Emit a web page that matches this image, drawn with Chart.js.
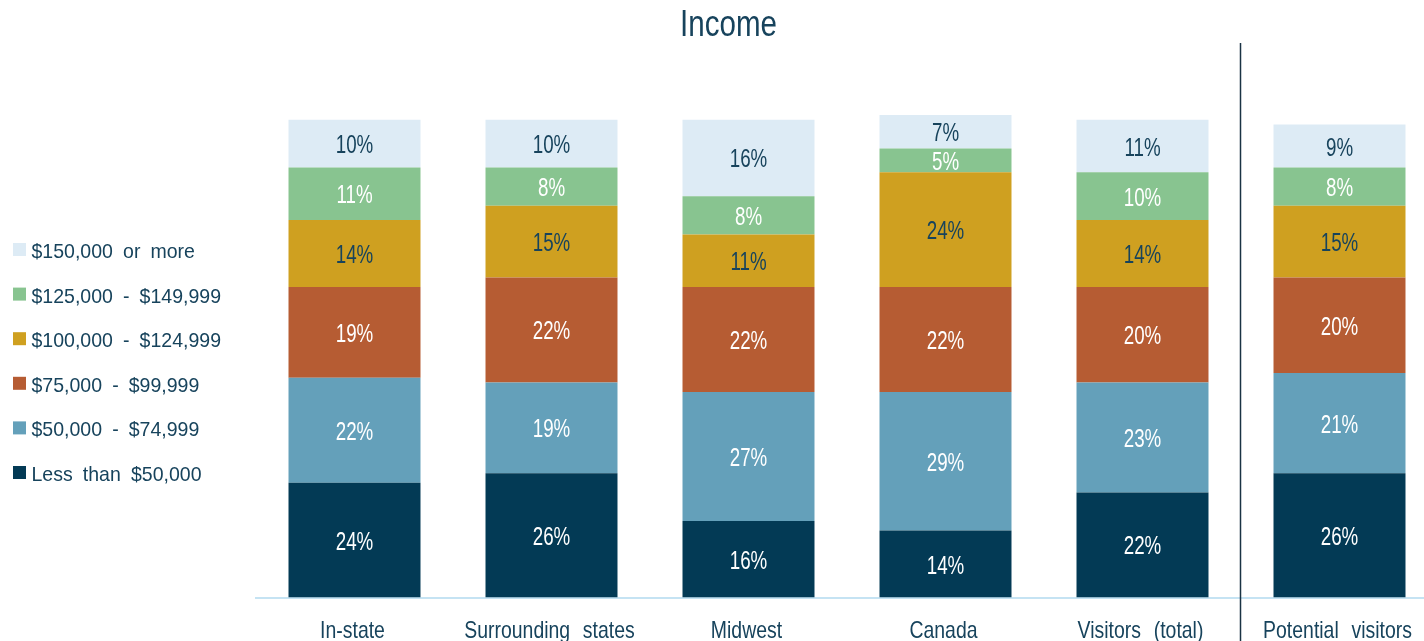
<!DOCTYPE html>
<html>
<head>
<meta charset="utf-8">
<title>Income</title>
<script src="https://cdn.jsdelivr.net/npm/chart.js@4.4.1/dist/chart.umd.min.js"></script>
<style>
  html, body { margin: 0; padding: 0; background: #ffffff; overflow: hidden; }
  #wrap { width: 1424px; height: 641px; overflow: hidden; position: relative; }
  canvas { display: block; }
</style>
</head>
<body>
<div id="wrap"><canvas id="chart" width="1460" height="641"></canvas></div>
<script>
// Visitor groups along the x axis
const categories = ['In-state', 'Surrounding states', 'Midwest', 'Canada', 'Visitors (total)', 'Potential visitors'];

// Share of respondents (%) in each household income bracket
const lessThan50k    = [24, 26, 16, 14, 22, 26];
const from50kTo75k   = [22, 19, 27, 29, 23, 21];
const from75kTo100k  = [19, 22, 22, 22, 20, 20];
const from100kTo125k = [14, 15, 11, 24, 14, 15];
const from125kTo150k = [11, 8, 8, 5, 10, 8];
const over150k       = [10, 10, 16, 7, 11, 9];

const bracketLabels = [
  'Less than $50,000',
  '$50,000 - $74,999',
  '$75,000 - $99,999',
  '$100,000 - $124,999',
  '$125,000 - $149,999',
  '$150,000 or more'
];

const chartTitle = 'Income';

const FONT = '"Liberation Sans", Arial, sans-serif';
const TEXT = '#17435c';

const series = [
  { data: lessThan50k,    color: '#033a55', label: '#ffffff' },
  { data: from50kTo75k,   color: '#64a0ba', label: '#ffffff' },
  { data: from75kTo100k,  color: '#b65c33', label: '#ffffff' },
  { data: from100kTo125k, color: '#cfa020', label: TEXT },
  { data: from125kTo150k, color: '#88c490', label: '#ffffff' },
  { data: over150k,       color: '#ddebf5', label: TEXT }
];

const datasets = series.map((s, i) => ({
  label: bracketLabels[i],
  data: s.data,
  backgroundColor: s.color,
  borderWidth: 0,
  barPercentage: 0.67,
  categoryPercentage: 1.0,
  valueColor: s.label
}));

// Condensed sans text: regular face squeezed horizontally
function narrowText(ctx, text, x, y, opts) {
  ctx.save();
  ctx.font = opts.size + 'px ' + FONT;
  ctx.fillStyle = opts.color;
  ctx.textAlign = opts.align || 'center';
  ctx.textBaseline = 'alphabetic';
  ctx.wordSpacing = (opts.gap || 0) + 'px';
  ctx.translate(x, y);
  ctx.scale(opts.sx, 1);
  ctx.fillText(text, 0, 0);
  ctx.restore();
}

// Percent value centred inside each stacked segment
const segmentValues = {
  id: 'segmentValues',
  afterDatasetsDraw(chart) {
    chart.data.datasets.forEach((ds, di) => {
      chart.getDatasetMeta(di).data.forEach((bar, i) => {
        const cy = (bar.y + bar.base) / 2;
        narrowText(chart.ctx, ds.data[i] + '%', bar.x, cy + 9.5,
          { size: 25, sx: 0.75, color: ds.valueColor });
      });
    });
  }
};

// Title, category names and the left-hand legend
const textLayer = {
  id: 'textLayer',
  afterDraw(chart) {
    const ctx = chart.ctx;
    narrowText(ctx, chartTitle, 728.5, 36, { size: 36, sx: 0.82, color: TEXT });

    const x = chart.scales.x;
    chart.data.labels.forEach((lab, i) => {
      narrowText(ctx, lab, x.getPixelForTick(i) - 2, chart.chartArea.bottom + 40,
        { size: 24, sx: 0.81, color: TEXT, gap: 9 });
    });

    const n = chart.data.datasets.length;
    for (let k = 0; k < n; k++) {
      const ds = chart.data.datasets[n - 1 - k];
      const cy = 249.5 + k * 44.6;
      ctx.fillStyle = ds.backgroundColor;
      ctx.fillRect(13, cy - 6.5, 13, 13);
      narrowText(ctx, ds.label, 31.5, cy + 8.5,
        { size: 21, sx: 0.93, color: TEXT, align: 'left', gap: 5 });
    }
  }
};

// Divider between current visitors and potential visitors
const groupDivider = {
  id: 'groupDivider',
  afterDraw(chart) {
    const x = chart.scales.x;
    const px = Math.round((x.getPixelForValue(4) + x.getPixelForValue(5)) / 2) - 0.5;
    const ctx = chart.ctx;
    ctx.save();
    ctx.strokeStyle = '#1a3344';
    ctx.lineWidth = 1.5;
    ctx.beginPath();
    ctx.moveTo(px, 43);
    ctx.lineTo(px, chart.height);
    ctx.stroke();
    ctx.restore();
  }
};

new Chart(document.getElementById('chart'), {
  type: 'bar',
  data: { labels: categories, datasets },
  plugins: [segmentValues, textLayer, groupDivider],
  options: {
    responsive: false,
    animation: false,
    devicePixelRatio: 1,
    layout: { padding: { left: 256, right: 22, top: 72, bottom: 0 } },
    plugins: {
      legend: { display: false },
      tooltip: { enabled: false },
      title: { display: false }
    },
    scales: {
      x: {
        stacked: true,
        offset: true,
        grid: { display: false, drawTicks: false },
        border: { display: true, color: '#c5e3f3', width: 2 },
        ticks: { display: false },
        afterFit(scale) { scale.height = 43.5; }
      },
      y: {
        stacked: true,
        display: false,
        min: 0,
        max: 110
      }
    }
  }
});
</script>
</body>
</html>
